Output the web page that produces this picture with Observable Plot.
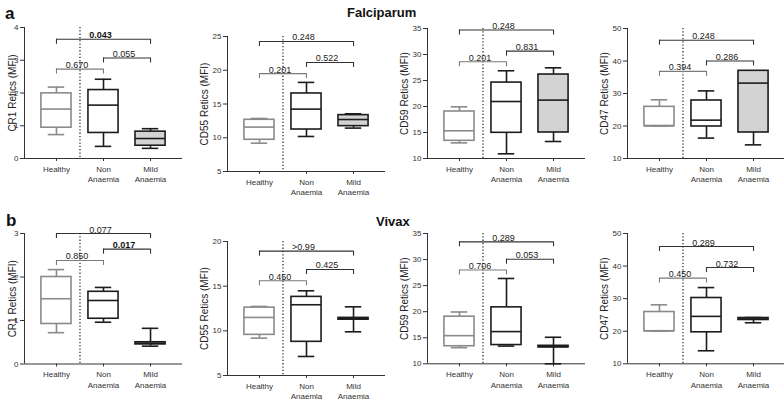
<!DOCTYPE html>
<html><head><meta charset="utf-8">
<script src="https://cdn.jsdelivr.net/npm/d3@7"></script>
<script src="https://cdn.jsdelivr.net/npm/@observablehq/plot@0.6"></script>
<style>
body{margin:0;background:#fff;font-family:"Liberation Sans",Arial,sans-serif;}
#wrap{position:relative;width:784px;height:401px;overflow:hidden;background:#fff;}
.panel{position:absolute;}
.lbl{position:absolute;font-weight:bold;color:#111;line-height:1;}
</style></head><body>
<div id="wrap">
<div class="lbl" style="left:5px;top:5px;font-size:17px">a</div>
<div class="lbl" style="left:6px;top:212px;font-size:17px">b</div>
<div class="lbl" style="left:347px;top:6px;font-size:13px">Falciparum</div>
<div class="lbl" style="left:376px;top:215px;font-size:13px">Vivax</div>
</div>
<script>
// categories
const groups = ["Healthy", "Non\nAnaemia", "Mild\nAnaemia"];
const pairs = [[0, 1], [1, 2], [0, 2]];

// box stats per group: [low whisker, Q1, median, Q3, high whisker]
const falCR1 = [[0.73, 0.94, 1.51, 1.99, 2.18], [0.37, 0.78, 1.63, 2.09, 2.42], [0.31, 0.39, 0.61, 0.82, 0.91]];
const falCR1P = ["0.670", "0.055", "0.043"];
const falCR1Level = [2.73, 3.07, 3.64];
const falCR1Ticks = [0, 1, 2, 3, 4];

const falCD55 = [[9.2, 9.7, 11.58, 12.66, 12.85], [10.19, 11.22, 14.24, 16.56, 18.2], [11.43, 11.72, 12.7, 13.35, 13.55]];
const falCD55P = ["0.201", "0.522", "0.248"];
const falCD55Level = [19.5, 21.15, 24.26];
const falCD55Ticks = [5, 10, 15, 20, 25];

const falCD59 = [[13.0, 13.4, 15.33, 19.04, 19.94], [10.9, 14.94, 20.96, 24.6, 26.87], [13.27, 15.0, 21.23, 26.15, 27.44]];
const falCD59P = ["0.201", "0.831", "0.248"];
const falCD59Level = [28.6, 30.65, 34.7];
const falCD59Ticks = [10, 15, 20, 25, 30, 35];

const falCD47 = [[20, 20, 20, 25.9, 28.06], [16.28, 19.85, 21.8, 27.85, 30.8], [14.2, 18.0, 33.2, 36.98, 36.98]];
const falCD47P = ["0.394", "0.286", "0.248"];
const falCD47Level = [36.8, 40.0, 46.4];
const falCD47Ticks = [10, 20, 30, 40, 50];

const vivCR1 = [[0.72, 0.92, 1.5, 2.0, 2.17], [0.96, 1.04, 1.46, 1.66, 1.76], [0.41, 0.45, 0.48, 0.5, 0.82]];
const vivCR1P = ["0.850", "0.017", "0.077"];
const vivCR1Level = [2.38, 2.64, 3.0];
const vivCR1Ticks = [0, 1, 2, 3];

const vivCD55 = [[9.18, 9.55, 11.5, 12.6, 12.73], [7.13, 8.77, 12.92, 13.8, 14.48], [9.89, 11.25, 11.35, 11.45, 12.69]];
const vivCD55P = ["0.450", "0.425", ">0.99"];
const vivCD55Level = [15.6, 16.87, 18.92];
const vivCD55Ticks = [5, 10, 15, 20];

const vivCD59 = [[13.1, 13.37, 15.4, 19.04, 19.94], [13.4, 13.6, 16.18, 20.83, 26.37], [10, 13.15, 13.3, 13.45, 15.09]];
const vivCD59P = ["0.706", "0.053", "0.289"];
const vivCD59Level = [28.0, 30.07, 33.4];
const vivCD59Ticks = [10, 15, 20, 25, 30, 35];

const vivCD47 = [[20, 20, 20.1, 25.9, 28.1], [14.0, 19.67, 24.56, 30.2, 33.4], [22.6, 23.45, 23.76, 24.05, 24.2]];
const vivCD47P = ["0.450", "0.732", "0.289"];
const vivCD47Level = [36.3, 39.55, 46.0];
const vivCD47Ticks = [10, 20, 30, 40, 50];

const yLabels = ["CR1 Retics (MFI)", "CD55 Retics (MFI)", "CD59 Retics (MFI)", "CD47 Retics (MFI)"];

// layout (pixels)
const layout = [
  {left: 0, axis: 24, top: 27, bottom: 158, lab: 12},
  {left: 190, axis: 227, top: 36, bottom: 171, lab: 23},
  {left: 390, axis: 427, top: 28, bottom: 158, lab: 23},
  {left: 590, axis: 627, top: 28, bottom: 158, lab: 23},
  {left: 0, axis: 24, top: 232.5, bottom: 363, lab: 12},
  {left: 190, axis: 227, top: 241, bottom: 375, lab: 23},
  {left: 390, axis: 427, top: 233, bottom: 363.3, lab: 23},
  {left: 590, axis: 627, top: 233, bottom: 363.3, lab: 23}
];

const panels = [
  [falCR1, falCR1P, falCR1Level, falCR1Ticks, yLabels[0]],
  [falCD55, falCD55P, falCD55Level, falCD55Ticks, yLabels[1]],
  [falCD59, falCD59P, falCD59Level, falCD59Ticks, yLabels[2]],
  [falCD47, falCD47P, falCD47Level, falCD47Ticks, yLabels[3]],
  [vivCR1, vivCR1P, vivCR1Level, vivCR1Ticks, yLabels[0]],
  [vivCD55, vivCD55P, vivCD55Level, vivCD55Ticks, yLabels[1]],
  [vivCD59, vivCD59P, vivCD59Level, vivCD59Ticks, yLabels[2]],
  [vivCD47, vivCD47P, vivCD47Level, vivCD47Ticks, yLabels[3]]
];

const plotW = 158, mTop = 10, mBottom = 30;
const xDomain = [-0.68, 2.68];
const half = 0.32, cap = 0.175;
const strokeOf = (i) => i === 0 ? "#8a8a8a" : "#1c1c1c";
const fillOf = (i) => i === 2 ? "#d3d3d3" : "white";

const wrap = document.getElementById("wrap");

panels.forEach(([data, p, level, ticks, label], k) => {
  const L = layout[k];
  const plotH = L.bottom - L.top;
  const mLeft = L.axis - L.left;
  const width = mLeft + plotW + 6;
  const height = mTop + plotH + mBottom;
  const y0 = ticks[0], y1 = ticks[ticks.length - 1];
  const tickLen = (y1 - y0) * 5 / plotH;
  const rows = data.map((d, i) => ({i, lo: d[0], q1: d[1], med: d[2], q3: d[3], hi: d[4]}));
  const br = pairs.map(([a, b], j) => ({
    a, b, y: level[j], yb: level[j] - tickLen, p: p[j],
    bold: parseFloat(p[j].replace(">", "")) < 0.05,
    color: j === 0 ? "#7a7a7a" : "#333"
  }));
  const chart = Plot.plot({
    width, height,
    marginLeft: mLeft, marginRight: width - mLeft - plotW, marginTop: mTop, marginBottom: mBottom,
    style: {background: "transparent", overflow: "visible", fontFamily: "Liberation Sans, Arial, sans-serif", color: "#222"},
    x: {domain: xDomain, axis: null},
    y: {domain: [y0, y1], axis: null},
    marks: [
      Plot.axisY({ticks, tickFormat: (d) => String(d), tickSize: 4, tickPadding: 2, fontSize: 8, label: null, stroke: "#333", fill: "#333"}),
      Plot.axisX({ticks: [0, 1, 2], tickFormat: (i) => groups[i], tickSize: 3, tickPadding: 3, fontSize: 8, lineHeight: 1.3, label: null, stroke: "#333", fill: "#333"}),
      Plot.ruleX([xDomain[0]], {stroke: "#333", strokeWidth: 1}),
      Plot.ruleY([y0], {stroke: "#333", strokeWidth: 1}),
      Plot.ruleX([0.5], {stroke: "#222", strokeWidth: 1.2, strokeDasharray: "1.3,2"}),
      // whiskers
      Plot.ruleX(rows, {x: "i", y1: "lo", y2: "q1", stroke: (d) => strokeOf(d.i), strokeWidth: 1.6}),
      Plot.ruleX(rows, {x: "i", y1: "q3", y2: "hi", stroke: (d) => strokeOf(d.i), strokeWidth: 1.6}),
      Plot.ruleY(rows, {y: "lo", x1: (d) => d.i - cap, x2: (d) => d.i + cap, stroke: (d) => strokeOf(d.i), strokeWidth: 1.6}),
      Plot.ruleY(rows, {y: "hi", x1: (d) => d.i - cap, x2: (d) => d.i + cap, stroke: (d) => strokeOf(d.i), strokeWidth: 1.6}),
      // boxes
      Plot.rect(rows, {x1: (d) => d.i - half, x2: (d) => d.i + half, y1: "q1", y2: "q3", fill: (d) => fillOf(d.i), stroke: (d) => strokeOf(d.i), strokeWidth: 1.6}),
      Plot.ruleY(rows, {y: "med", x1: (d) => d.i - half, x2: (d) => d.i + half, stroke: (d) => strokeOf(d.i), strokeWidth: 1.6}),
      // brackets
      Plot.ruleY(br, {y: "y", x1: "a", x2: "b", stroke: "color", strokeWidth: 1.1}),
      Plot.ruleX(br, {x: "a", y1: "yb", y2: "y", stroke: "color", strokeWidth: 1.1}),
      Plot.ruleX(br, {x: "b", y1: "yb", y2: "y", stroke: "color", strokeWidth: 1.1}),
      Plot.text(br, {filter: (d) => !d.bold, x: (d) => (d.a + d.b) / 2, y: "y", text: "p", lineAnchor: "bottom", dy: -1, dx: -3, fontSize: 9, fill: "#222"}),
      Plot.text(br, {filter: (d) => d.bold, x: (d) => (d.a + d.b) / 2, y: "y", text: "p", lineAnchor: "bottom", dy: -1, dx: -3, fontSize: 9, fontWeight: "bold", fill: "#111"}),
      // y label
      Plot.text([label], {frameAnchor: "left", text: (d) => d, rotate: -90, textAnchor: "middle", lineAnchor: "middle", dx: -L.lab, fontSize: 10, fill: "#222"})
    ]
  });
  chart.classList.add("panel");
  chart.style.left = L.left + "px";
  chart.style.top = (L.top - mTop) + "px";
  wrap.appendChild(chart);
});
</script>
</body></html>
